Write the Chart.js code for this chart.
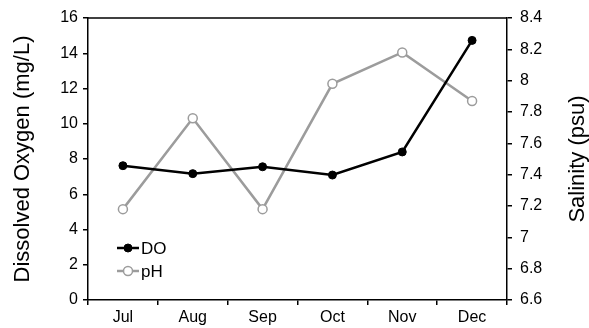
<!DOCTYPE html>
<html>
<head>
<meta charset="utf-8">
<script src="https://cdn.jsdelivr.net/npm/chart.js@4/dist/chart.umd.min.js"></script>
<style>
  html, body { margin: 0; padding: 0; background: #ffffff; }
  #wrap { width: 589px; height: 328px; }
</style>
</head>
<body>
<div id="wrap"><canvas id="c" width="589" height="328"></canvas></div>
<script>
const months = ['Jul', 'Aug', 'Sep', 'Oct', 'Nov', 'Dec'];
const doValues = [7.62, 7.17, 7.56, 7.09, 8.40, 14.73];
const phValues = [7.18, 7.76, 7.18, 7.98, 8.18, 7.87];
const leftTickValues = [0, 2, 4, 6, 8, 10, 12, 14, 16];
const rightTickValues = [6.6, 6.8, 7.0, 7.2, 7.4, 7.6, 7.8, 8.0, 8.2, 8.4];
const leftTitle = 'Dissolved Oxygen (mg/L)';
const rightTitle = 'Salinity (psu)';
const seriesNames = ['DO', 'pH'];

const FONT = "'Liberation Sans', Arial, sans-serif";
const GRAY = '#9c9c9c';

const framePlugin = {
  id: 'frame',
  afterDraw(chart) {
    const ctx = chart.ctx;
    const a = chart.chartArea;
    ctx.save();
    // top border
    ctx.strokeStyle = '#000';
    ctx.lineWidth = 1.5;
    ctx.beginPath();
    ctx.moveTo(a.left, a.top);
    ctx.lineTo(a.right, a.top);
    ctx.stroke();
    // right axis title reading upward
    ctx.fillStyle = '#000';
    ctx.font = '22px ' + FONT;
    ctx.textAlign = 'center';
    ctx.textBaseline = 'middle';
    ctx.translate(578, (a.top + a.bottom) / 2);
    ctx.rotate(-Math.PI / 2);
    ctx.fillText(rightTitle, 0, 0);
    ctx.restore();

    // legend
    ctx.save();
    const items = chart.data.datasets;
    const lx0 = 117, lx1 = 139, mx = 128;
    const rows = [248, 271];
    items.forEach((ds, i) => {
      const y = rows[i];
      ctx.strokeStyle = ds.borderColor;
      ctx.lineWidth = ds.borderWidth;
      ctx.beginPath();
      ctx.moveTo(lx0, y);
      ctx.lineTo(lx1, y);
      ctx.stroke();
      ctx.beginPath();
      ctx.arc(mx, y, ds.pointRadius, 0, Math.PI * 2);
      ctx.fillStyle = ds.pointBackgroundColor;
      ctx.fill();
      ctx.lineWidth = ds.pointBorderWidth;
      ctx.strokeStyle = ds.pointBorderColor;
      ctx.stroke();
      ctx.fillStyle = '#000';
      ctx.font = '17px ' + FONT;
      ctx.textAlign = 'left';
      ctx.textBaseline = 'middle';
      ctx.fillText(ds.label, lx1 + 2, y + 1);
    });
    ctx.restore();
  }
};

const fmt = v => String(Number(Number(v).toFixed(1)));

new Chart(document.getElementById('c'), {
  type: 'line',
  data: {
    labels: months,
    datasets: [
      {
        label: seriesNames[0],
        data: doValues,
        yAxisID: 'y',
        borderColor: '#000000',
        backgroundColor: '#000000',
        borderWidth: 2.5,
        pointRadius: 4,
        pointBackgroundColor: '#000000',
        pointBorderColor: '#000000',
        pointBorderWidth: 1,
        tension: 0,
        order: 1
      },
      {
        label: seriesNames[1],
        data: phValues,
        yAxisID: 'y1',
        borderColor: GRAY,
        backgroundColor: '#ffffff',
        borderWidth: 2.5,
        pointRadius: 4.5,
        pointBackgroundColor: '#ffffff',
        pointBorderColor: GRAY,
        pointBorderWidth: 1.5,
        tension: 0,
        order: 2
      }
    ]
  },
  options: {
    responsive: false,
    animation: false,
    events: [],
    layout: { padding: { top: 18, left: 0, right: 0, bottom: 0 } },
    plugins: {
      legend: { display: false },
      tooltip: { enabled: false }
    },
    scales: {
      x: {
        type: 'category',
        offset: true,
        grid: { offset: true, drawOnChartArea: false, drawTicks: true, tickLength: 5, color: '#000', lineWidth: 1.5 },
        border: { color: '#000', width: 1.5 },
        ticks: { color: '#000', font: { family: FONT, size: 16 }, padding: 3, maxRotation: 0, autoSkip: false },
        afterFit(s) { s.height = 28; }
      },
      y: {
        type: 'linear',
        position: 'left',
        min: 0, max: 16,
        afterBuildTicks(s) { s.ticks = leftTickValues.map(v => ({ value: v })); },
        grid: { drawOnChartArea: false, drawTicks: true, tickLength: 5, color: '#000', lineWidth: 1.5 },
        border: { color: '#000', width: 1.5 },
        ticks: { color: '#000', font: { family: FONT, size: 16 }, padding: 5, callback: v => fmt(v) },
        title: { display: true, text: leftTitle, color: '#000', font: { family: FONT, size: 22 }, padding: { top: 10, bottom: 0 } },
        afterFit(s) { s.width = 88; }
      },
      y1: {
        type: 'linear',
        position: 'right',
        min: 6.6, max: 8.4,
        afterBuildTicks(s) { s.ticks = rightTickValues.map(v => ({ value: v })); },
        grid: { drawOnChartArea: false, drawTicks: true, tickLength: 5, color: '#000', lineWidth: 1.5 },
        border: { color: '#000', width: 1.5 },
        ticks: { color: '#000', font: { family: FONT, size: 16 }, padding: 8, callback: v => fmt(v) },
        title: { display: false },
        afterFit(s) { s.width = 82; }
      }
    }
  },
  plugins: [framePlugin]
});
</script>
</body>
</html>
